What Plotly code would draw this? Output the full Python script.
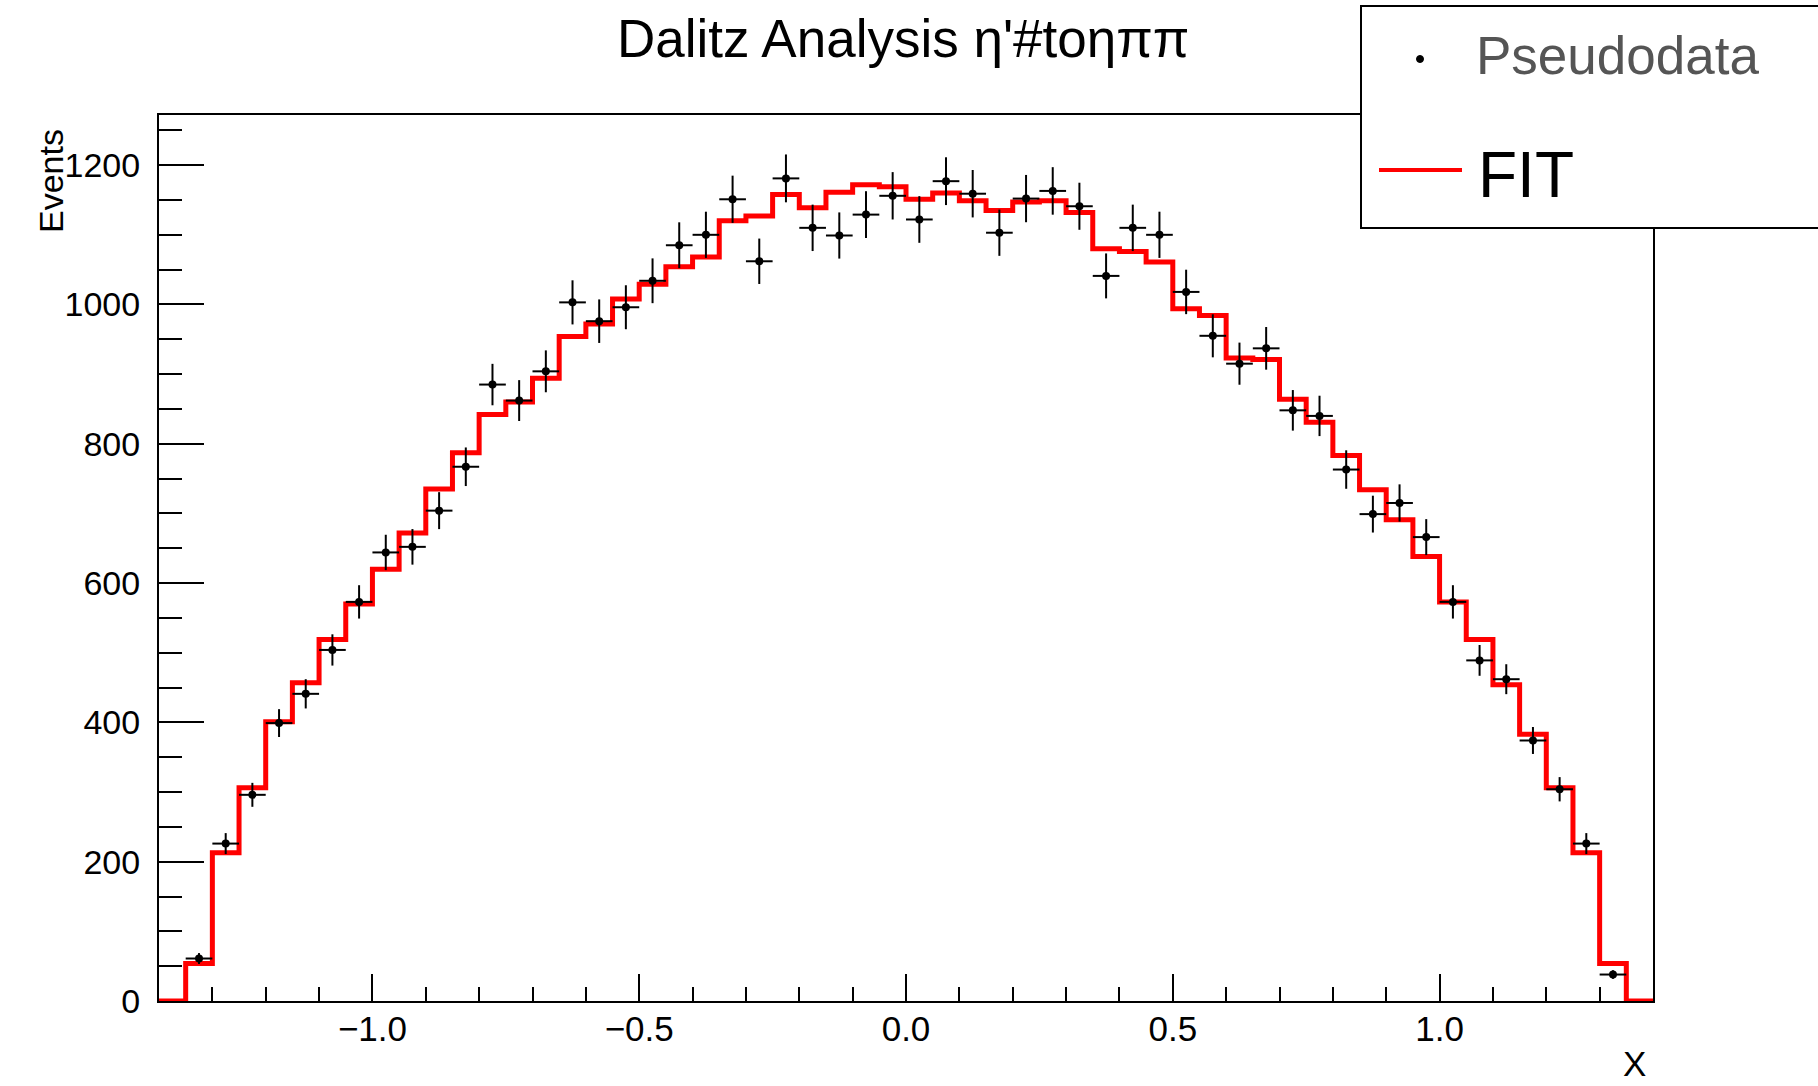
import numpy as np
import plotly.graph_objects as go

# ---------------- data ----------------
bin_edges = np.round(np.arange(-1.40, 1.4001, 0.05), 3)          # 56 bins
bin_centers = np.round((bin_edges[:-1] + bin_edges[1:]) / 2, 4)

fit_values = [0, 54, 213, 306, 401, 457, 519, 570, 620, 672,
              735, 787, 842, 860, 894, 954, 972, 1008, 1029, 1054,
              1068, 1120, 1127, 1158, 1139, 1161, 1172, 1169, 1151, 1160,
              1149, 1135, 1147, 1149, 1132, 1080, 1076, 1061, 994, 984,
              923, 921, 864, 831, 783, 734, 691, 638, 573, 519,
              454, 383, 306, 213, 54, 0]

# pseudodata for bins 2..55 (bins 1 and 56 are empty)
data_centers = bin_centers[1:55]
data_values = [61, 226, 296, 399, 441, 504, 573, 644, 652, 704,
               767, 885, 862, 904, 1003, 976, 996, 1034, 1085, 1100,
               1151, 1062, 1181, 1110, 1099, 1129, 1156, 1122, 1177, 1159,
               1103, 1152, 1163, 1141, 1041, 1110, 1100, 1018, 955, 915,
               937, 848, 840, 763, 699, 715, 666, 573, 489, 462,
               374, 304, 226, 38]

x_ticks = [-1.0, -0.5, 0.0, 0.5, 1.0]
y_ticks = [0, 200, 400, 600, 800, 1000, 1200]

title_text = "Dalitz Analysis η'#toηππ"
x_title = "X"
y_title = "Events"
legend_labels = ["Pseudodata", "FIT"]

# ---------------- layout geometry (pixels) ----------------
W, H = 1818, 1086
L, R, T, B = 159, 1653, 115, 1001
FONT = "Liberation Sans, Arial, Helvetica, sans-serif"


def px(x):
    return (x - L) / (R - L)


def py(y):
    return (B - y) / (B - T)


fig = go.Figure()

# fit step histogram
fig.add_trace(go.Scatter(
    x=bin_edges,
    y=list(fit_values) + [fit_values[-1]],
    mode="lines",
    line=dict(color="#ff0000", width=5, shape="hv"),
    showlegend=False,
    hoverinfo="skip",
))

# pseudodata with errors
fig.add_trace(go.Scatter(
    x=data_centers,
    y=data_values,
    mode="markers",
    marker=dict(color="black", size=8, symbol="circle"),
    error_y=dict(type="data", array=np.sqrt(np.array(data_values)), visible=True,
                 color="black", thickness=2, width=0),
    error_x=dict(type="constant", value=0.025, visible=True,
                 color="black", thickness=2, width=0),
    showlegend=False,
    hoverinfo="skip",
))

axis_common = dict(
    showline=True, linecolor="black", linewidth=2, mirror=True,
    showgrid=False, zeroline=False,
    ticks="inside", tickcolor="black", tickwidth=2,
)

fig.update_xaxes(
    range=[-1.4, 1.4],
    tickmode="array", tickvals=x_ticks, tickformat=".1f",
    ticklen=27,
    minor=dict(dtick=0.1, tick0=0, ticks="inside", ticklen=14,
               tickwidth=2, tickcolor="black"),
    tickfont=dict(family=FONT, size=35, color="black"),
    ticklabelstandoff=-4,
    **axis_common,
)
fig.update_yaxes(
    range=[0, 1272],
    tickmode="array", tickvals=y_ticks,
    ticklen=45,
    minor=dict(dtick=50, tick0=0, ticks="inside", ticklen=23,
               tickwidth=2, tickcolor="black"),
    tickfont=dict(family=FONT, size=34, color="black"),
    ticklabelstandoff=10,
    **axis_common,
)

annotations = [
    dict(text=title_text, x=px(903), y=py(38), xref="paper", yref="paper",
         xanchor="center", yanchor="middle", showarrow=False,
         font=dict(family=FONT, size=53, color="black")),
    dict(text=y_title, x=px(51), y=py(127), xref="paper", yref="paper",
         xanchor="center", yanchor="top", textangle=-90, showarrow=False,
         font=dict(family=FONT, size=34, color="black")),
    dict(text=x_title, x=px(1648), y=py(1085), xref="paper", yref="paper",
         xanchor="right", yanchor="bottom", showarrow=False,
         font=dict(family=FONT, size=35, color="black")),
    dict(text=legend_labels[0], x=px(1474), y=py(56), xref="paper", yref="paper",
         xanchor="left", yanchor="middle", showarrow=False,
         font=dict(family=FONT, size=53, color="#555555")),
    dict(text=legend_labels[1], x=px(1476), y=py(175), xref="paper", yref="paper",
         xanchor="left", yanchor="middle", showarrow=False,
         font=dict(family=FONT, size=64, color="black")),
]

shapes = [
    dict(type="rect", xref="paper", yref="paper",
         x0=px(1361), x1=px(1840), y0=py(228), y1=py(6),
         fillcolor="white", line=dict(color="black", width=2), layer="above"),
    dict(type="circle", xref="paper", yref="paper",
         x0=px(1416.5), x1=px(1423.5), y0=py(62.5), y1=py(55.5),
         fillcolor="black", line=dict(color="black", width=1), layer="above"),
    dict(type="line", xref="paper", yref="paper",
         x0=px(1379), x1=px(1462), y0=py(170), y1=py(170),
         line=dict(color="#ff0000", width=4), layer="above"),
]

fig.update_layout(
    width=W, height=H,
    margin=dict(l=L, r=W - R, t=T, b=H - B, pad=0),
    paper_bgcolor="white", plot_bgcolor="white",
    showlegend=False,
    annotations=annotations,
    shapes=shapes,
    font=dict(family=FONT, color="black"),
)

fig.write_html("out.html")
